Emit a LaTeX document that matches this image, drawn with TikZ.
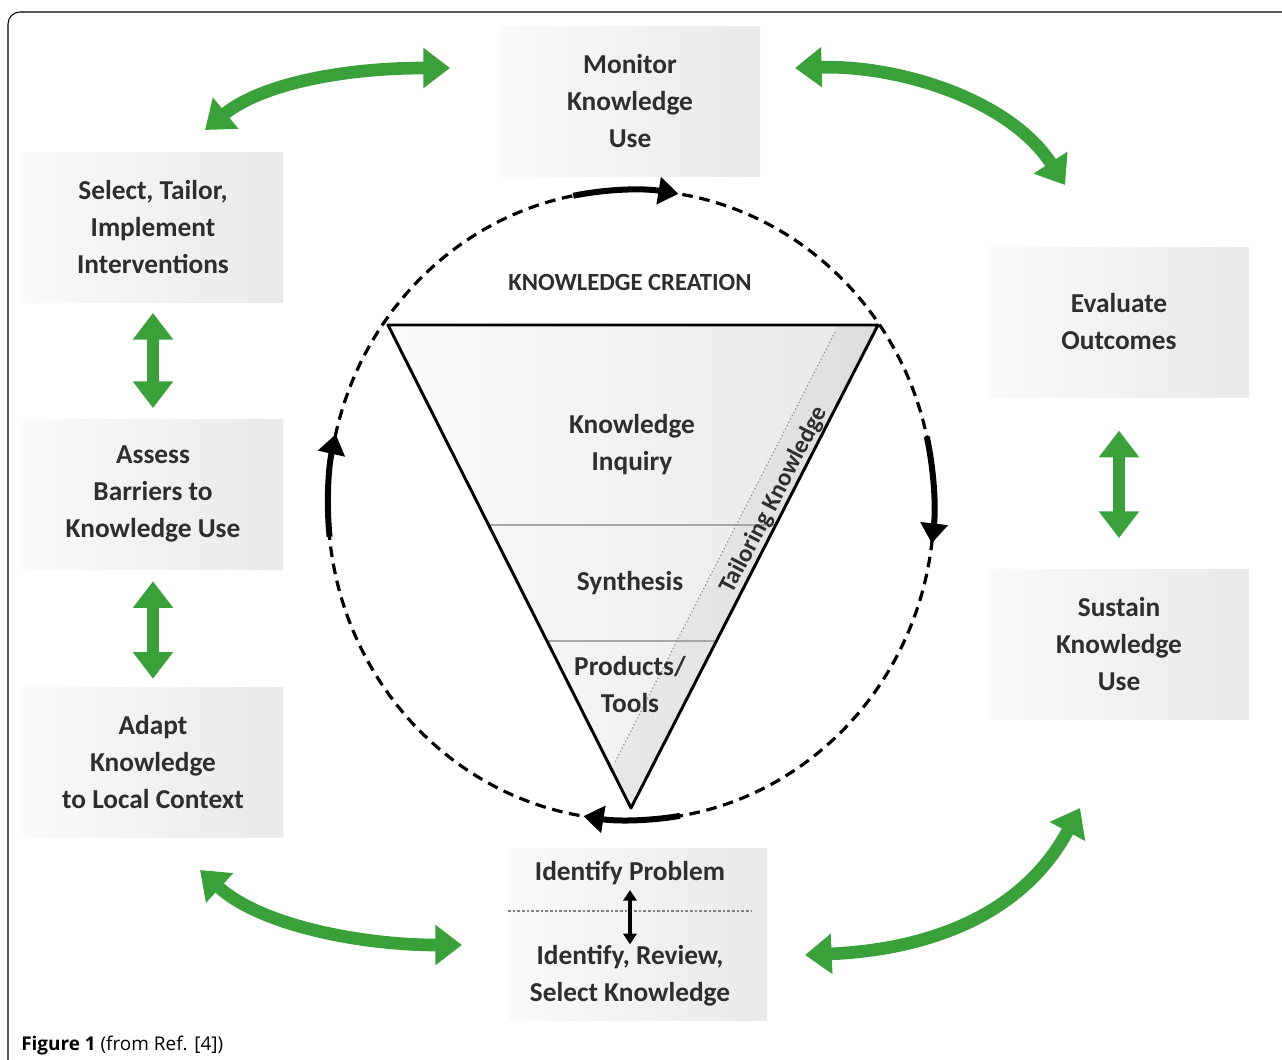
\documentclass[tikz,border=0pt]{standalone}
\usepackage{fontspec}
\setmainfont{Carlito}
\newfontfamily\capfont{Open Sans}
\usepackage{tikz}
\usetikzlibrary{arrows.meta}
\usetikzlibrary{calc}
\definecolor{arrgreen}{RGB}{58,160,58}
\newcommand{\stagefont}{\fontsize{20.5}{27.75}\selectfont\bfseries}

\begin{document}
\begin{tikzpicture}[x=0.75pt,y=0.75pt,yscale=-1,xscale=1,
  stagebox/.style={rectangle, minimum width=195pt, minimum height=112.5pt, left color=gray!4, right color=gray!17, inner sep=0.75pt, align=center, font=\stagefont, text=black!82},
  textnode/.style={inner sep=0.75pt, align=center, font=\stagefont, text=black!82},
  greenarr/.style={draw=arrgreen, line width=9.5pt, {Triangle[length=20pt,width=29pt]}-{Triangle[length=20pt,width=29pt]}},
  cyclearr/.style={line width=4.5pt, -{Triangle[length=15pt,width=20pt]}}]
\useasboundingbox (0,0) rectangle (1282,1060);

%Frame
\draw [line width=0.8pt, rounded corners=9pt] (8,1062) -- (8,12) -- (1284,12) ;

%Shape: Stage boxes
\draw (630,101) node (monitor) [stagebox] {Monitor\\Knowledge\\Use};
\draw (153,227) node (select) [stagebox] {Select, Tailor,\\Implement\\Interventions};
\draw (153,494) node (assess) [stagebox] {Assess\\Barriers to\\Knowledge Use};
\draw (153,762) node (adapt) [stagebox] {Adapt\\Knowledge\\to Local Context};
\draw (1119,322) node (evaluate) [stagebox] {Evaluate\\Outcomes};
\draw (1119,644) node (sustain) [stagebox] {Sustain\\Knowledge\\Use};
\draw (638,934) node (ident) [stagebox, minimum width=193.5pt, minimum height=129pt] {};

% Text Node
\draw (630,873) node (probtxt) [textnode] {Identify Problem};
% Text Node
\draw (630,976) node (seltxt) [textnode] {Identify, Review,\\Select Knowledge};
%Straight Lines
\draw [gray, line width=0.8pt, dash pattern=on 2pt off 1.5pt] (508,911) -- (752,911) ;
\draw [line width=2.4pt, {Triangle[length=8pt,width=10pt]}-{Triangle[length=8pt,width=10pt]}, shorten <=3pt] (probtxt) -- (seltxt) ;

%Shape: Triangle
\coordinate (tl) at (388,325);
\coordinate (tr) at (878,325);
\coordinate (apex) at (631,808);
\shade [left color=gray!3, right color=gray!18] (tl) -- (tr) -- (apex) -- cycle ;
\fill [black, opacity=0.04] (838,325) -- (tr) -- (apex) -- (611,769) -- cycle ;
\draw [gray!70, line width=1pt] ($(tl)!0.414!(apex)$) -- ($(tr)!0.414!(apex)$) ;
\draw [gray!70, line width=1pt] ($(tl)!0.654!(apex)$) -- ($(tr)!0.654!(apex)$) ;
\draw [gray, line width=0.8pt, dotted] (835,332) -- (615,762) ;
\draw [line width=2.2pt, line join=round] (tl) -- (tr) -- (apex) -- cycle ;

% Text Node
\draw (630,282) node (kcreate) [textnode, font=\fontsize{18.5}{22}\selectfont\bfseries] {KNOWLEDGE CREATION};
% Text Node
\draw (632,445) node (inquiry) [textnode] {Knowledge\\Inquiry};
% Text Node
\draw (630,583) node (synth) [textnode] {Synthesis};
% Text Node
\draw (630,685) node (tools) [textnode] {Products/\\Tools};
% Text Node
\draw (774,500) node (tailor) [textnode, rotate=62.5, font=\fontsize{18.5}{22}\selectfont\bfseries] {Tailoring Knowledge};

%Shape: Cycle
\coordinate (ctr) at (631,505);
\draw [line width=2.4pt, dash pattern=on 8pt off 5pt] (ctr) ellipse [x radius=303, y radius=315] ;
\draw [cyclearr] (ctr) ++(-101:303 and 315) arc [start angle=-101, end angle=-81, x radius=303, y radius=315] ;
\draw [cyclearr] (ctr) ++(-12.5:303 and 315) arc [start angle=-12.5, end angle=7, x radius=303, y radius=315] ;
\draw [cyclearr] (ctr) ++(80.7:303 and 315) arc [start angle=80.7, end angle=99, x radius=303, y radius=315] ;
\draw [cyclearr] (ctr) ++(174.2:303 and 315) arc [start angle=174.2, end angle=193, x radius=303, y radius=315] ;

%Green arrows
\coordinate (selUp) at (205,130);
\coordinate (monLeft) at (450,68);
\coordinate (monRight) at (795,68);
\coordinate (evalUp) at (1065,185);
\coordinate (adaptDown) at (200,870);
\coordinate (identLeft) at (462,945);
\coordinate (identRight) at (805,955);
\coordinate (sustDown) at (1080,808);
\draw [greenarr] (selUp) .. controls (260,85) and (340,68) .. (monLeft) ;
\draw [greenarr] (monRight) .. controls (900,65) and (1010,100) .. (evalUp) ;
\draw [greenarr] (adaptDown) .. controls (260,925) and (360,945) .. (identLeft) ;
\draw [greenarr] (identRight) .. controls (920,950) and (1020,920) .. (sustDown) ;
\draw [greenarr, shorten <=8pt, shorten >=8pt] (select) -- (assess) ;
\draw [greenarr, shorten <=9pt, shorten >=6pt] (assess) -- (adapt) ;
\draw [greenarr, shorten <=25pt, shorten >=23pt] (evaluate) -- (sustain) ;

% Text Node
\draw (20,1046) node (caption) [anchor=west, inner sep=0.75pt, font=\capfont\fontsize{14.2}{16}\selectfont] {\textbf{Figure 1} (from Ref. [4])};
\end{tikzpicture}
\end{document}
